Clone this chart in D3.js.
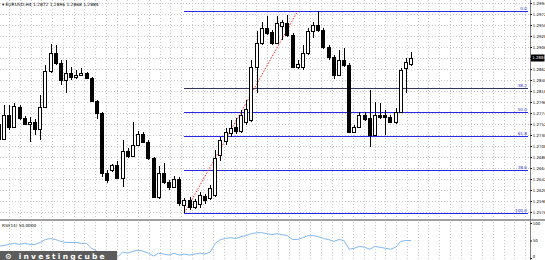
<!DOCTYPE html>
<html>
<head>
<meta charset="utf-8">
<script src="https://cdn.jsdelivr.net/npm/d3@7"></script>
<style>
body { margin: 0; background: #fff; }
text { font-family: "DejaVu Sans", sans-serif; }
</style>
</head>
<body>
<svg id="chart" width="545" height="260"></svg>
<script>
// EURUSD H4 candles
var open  = [1.2752,1.2722,1.2770,1.2746,1.2786,1.2764,1.2752,1.2756,1.2742,1.2786,
             1.2858,1.2894,1.2874,1.2840,1.2854,1.2846,1.2850,1.2854,1.2844,1.2798,
             1.2774,1.2654,1.2660,1.2670,1.2644,1.2698,1.2688,1.2710,1.2732,1.2716,
             1.2684,1.2606,1.2654,1.2636,1.2626,1.2642,1.2590,1.2600,1.2586,1.2592,
             1.2608,1.2604,1.2610,1.2690,1.2718,1.2734,1.2746,1.2738,1.2756,1.2760,
             1.2866,1.2914,1.2944,1.2936,1.2914,1.2948,1.2954,1.2930,1.2866,1.2866,
             1.2894,1.2938,1.2950,1.2940,1.2906,1.2886,1.2850,1.2880,1.2870,1.2736,
             1.2746,1.2770,1.2764,1.2730,1.2770,1.2770,1.2766,1.2756,1.2776,1.2864,
             1.2872];
var high  = [1.2760,1.2790,1.2790,1.2794,1.2790,1.2768,1.2766,1.2762,1.2810,1.2870,
             1.2912,1.2910,1.2880,1.2880,1.2866,1.2860,1.2864,1.2856,1.2846,1.2800,
             1.2776,1.2660,1.2672,1.2678,1.2720,1.2704,1.2756,1.2738,1.2736,1.2720,
             1.2686,1.2668,1.2674,1.2640,1.2648,1.2646,1.2604,1.2606,1.2602,1.2616,
             1.2612,1.2630,1.2700,1.2726,1.2744,1.2760,1.2764,1.2780,1.2800,1.2880,
             1.2938,1.2956,1.2968,1.2940,1.2968,1.2960,1.2970,1.2934,1.2880,1.2910,
             1.2944,1.2956,1.2978,1.2944,1.2910,1.2890,1.2900,1.2904,1.2874,1.2750,
             1.2776,1.2776,1.2820,1.2796,1.2794,1.2780,1.2770,1.2784,1.2864,1.2884,
             1.2896];
var low   = [1.2716,1.2720,1.2740,1.2744,1.2760,1.2750,1.2716,1.2730,1.2720,1.2784,
             1.2854,1.2870,1.2830,1.2814,1.2840,1.2842,1.2848,1.2842,1.2796,1.2762,
             1.2646,1.2634,1.2656,1.2642,1.2626,1.2684,1.2686,1.2708,1.2714,1.2680,
             1.2604,1.2602,1.2632,1.2620,1.2624,1.2588,1.2574,1.2580,1.2582,1.2584,
             1.2592,1.2600,1.2606,1.2678,1.2710,1.2726,1.2732,1.2734,1.2750,1.2756,
             1.2814,1.2910,1.2930,1.2910,1.2912,1.2920,1.2926,1.2864,1.2862,1.2860,
             1.2890,1.2924,1.2936,1.2902,1.2880,1.2842,1.2848,1.2866,1.2734,1.2734,
             1.2744,1.2758,1.2706,1.2728,1.2762,1.2730,1.2754,1.2752,1.2774,1.2814,
             1.2868];
var close = [1.2722,1.2770,1.2746,1.2788,1.2764,1.2752,1.2756,1.2742,1.2786,1.2858,
             1.2894,1.2874,1.2840,1.2854,1.2846,1.2850,1.2854,1.2844,1.2798,1.2774,
             1.2654,1.2640,1.2670,1.2644,1.2698,1.2688,1.2710,1.2732,1.2716,1.2684,
             1.2606,1.2654,1.2636,1.2626,1.2642,1.2594,1.2600,1.2586,1.2598,1.2610,
             1.2600,1.2624,1.2684,1.2720,1.2736,1.2744,1.2738,1.2770,1.2782,1.2866,
             1.2914,1.2944,1.2934,1.2914,1.2954,1.2956,1.2930,1.2866,1.2872,1.2894,
             1.2938,1.2950,1.2940,1.2906,1.2886,1.2850,1.2880,1.2870,1.2736,1.2746,
             1.2770,1.2762,1.2730,1.2770,1.2766,1.2766,1.2756,1.2776,1.2860,1.2876,
             1.2884];

// RSI(14) sub window
var rsi = [33.3,36.1,38.9,41.7,38.9,41.7,38.9,38.9,44.4,52.8,
           55.6,52.8,47.2,44.4,44.4,44.4,41.7,41.7,27.8,19.4,
           8.3,2.8,5.6,2.8,16.7,13.9,19.4,22.2,19.4,13.9,
           5.6,13.9,11.1,8.3,13.9,8.3,11.1,8.3,11.1,13.9,
           11.1,16.7,41.7,52.8,55.6,58.3,55.6,61.1,63.9,69.4,
           72.2,72.2,69.4,66.7,69.4,66.7,63.9,52.8,52.8,58.3,
           63.9,63.9,61.1,55.6,52.8,47.2,52.8,50.0,25.0,27.8,
           33.3,30.6,25.0,33.3,30.6,27.8,25.0,30.6,47.2,50.0,
           50.0];

var priceTicks = [1.2994,1.2972,1.2950,1.2928,1.2906,1.2884,1.2862,1.2840,1.2818,1.2796,
                  1.2774,1.2752,1.2730,1.2708,1.2686,1.2664,1.2642,1.2620,1.2598,1.2576];
var rsiTicks = [100, 50, 0];

// fibonacci: anchors (bar index, price) and levels
var fiboFrom = [36, 1.2574];
var fiboTo = [58, 1.2978];
var fiboLevels = [0, 38.2, 50, 61.8, 78.6, 100];

var svg = d3.select("#chart");
var plotRight = 530;
var axisFont = "'Liberation Sans Narrow', 'DejaVu Sans Condensed', sans-serif";

var x = d3.scaleLinear().domain([0, 100]).range([-1, 514]);
var y = d3.scaleLinear().domain([1.2564, 1.3000]).range([218, 0]);
var yr = d3.scaleLinear().domain([0, 100]).range([258, 223]);

// grid
var grid = svg.append("g").attr("shape-rendering", "crispEdges");
grid.selectAll(".gh").data(priceTicks).join("line")
	.attr("x1", 0).attr("x2", plotRight)
	.attr("y1", d => Math.round(y(d)) + 0.5).attr("y2", d => Math.round(y(d)) + 0.5)
	.attr("stroke", "#c8c8c8").attr("stroke-dasharray", "1,2");
grid.selectAll(".gv").data(d3.range(9, plotRight, 10.75)).join("line")
	.attr("x1", d => Math.round(d) + 0.5).attr("x2", d => Math.round(d) + 0.5)
	.attr("y1", 0).attr("y2", 260)
	.attr("stroke", "#c8c8c8").attr("stroke-dasharray", "1,2");

// fibo levels
var fx1 = x(fiboFrom[0]);
var lvlY = d => y(fiboTo[1] - (fiboTo[1] - fiboFrom[1]) * d / 100);
var fg = svg.append("g");
fg.selectAll("line").data(fiboLevels).join("line")
	.attr("x1", fx1).attr("x2", plotRight - 2)
	.attr("y1", d => Math.round(lvlY(d)) + 0.5)
	.attr("y2", d => Math.round(lvlY(d)) + 0.5)
	.attr("stroke", d => d == 38.2 ? "#34345a" : "#2828e6")
	.attr("stroke-width", 1.1)
	.attr("shape-rendering", "crispEdges");
fg.selectAll("text").data(fiboLevels).join("text")
	.attr("x", plotRight - 3)
	.attr("y", d => lvlY(d) - 1)
	.attr("text-anchor", "end")
	.attr("font-size", 4.2)
	.attr("fill", "#3030e0")
	.text(d => d.toFixed(1));
svg.append("line")
	.attr("x1", x(fiboFrom[0])).attr("y1", y(fiboFrom[1]))
	.attr("x2", x(fiboTo[0])).attr("y2", y(fiboTo[1]))
	.attr("stroke", "#ff2020").attr("stroke-dasharray", "1.5,1.5").attr("stroke-width", 1);

// candles
var bars = d3.range(close.length);
var cg = svg.append("g").attr("shape-rendering", "crispEdges");
cg.selectAll(".wick").data(bars).join("line")
	.attr("x1", i => Math.round(x(i)) + 0.5).attr("x2", i => Math.round(x(i)) + 0.5)
	.attr("y1", i => y(high[i])).attr("y2", i => y(low[i]))
	.attr("stroke", "#000");
cg.selectAll(".body").data(bars).join("rect")
	.attr("x", i => Math.round(x(i)) - 1.5)
	.attr("width", 3)
	.attr("y", i => Math.round(y(Math.max(open[i], close[i]))) + 0.5)
	.attr("height", i => Math.max(1, Math.round(Math.abs(y(open[i]) - y(close[i])))))
	.attr("fill", i => close[i] >= open[i] ? "#fff" : "#000")
	.attr("stroke", "#000");

// header
svg.append("text").attr("x", 2).attr("y", 5.5).attr("font-size", 4.4).attr("fill", "#000")
	.text("\u25BE EURUSD,H4  " + [open, high, low, close].map(a => a[a.length - 1].toFixed(4)).join(" "));

// separator + right axis
svg.append("rect").attr("x", 0).attr("y", 219).attr("width", 545).attr("height", 2).attr("fill", "#a0a0a0");
svg.append("line").attr("x1", plotRight + 0.5).attr("x2", plotRight + 0.5).attr("y1", 0).attr("y2", 260)
	.attr("stroke", "#808080");

var axis = svg.append("g").attr("transform", "translate(" + (plotRight + 0.5) + ",0)")
	.call(d3.axisRight(y).tickValues(priceTicks).tickFormat(d3.format(".4f")).tickSize(1.5).tickPadding(0.8));
axis.select(".domain").remove();
axis.selectAll("text").attr("font-size", 3.9).attr("fill", "#000").attr("font-family", axisFont);
axis.selectAll("line").attr("stroke", "#000");

// current price tag
var last = close[close.length - 1];
svg.append("rect").attr("x", plotRight + 1).attr("y", y(last) - 3.5).attr("width", 13.5).attr("height", 7).attr("fill", "#000");
svg.append("text").attr("x", plotRight + 2.3).attr("y", y(last) + 1.4).attr("font-size", 3.9).attr("fill", "#fff")
	.attr("font-family", axisFont).text(last.toFixed(4));

// rsi window
svg.append("path").datum(bars)
	.attr("d", d3.line().x(i => x(i)).y(i => yr(rsi[i])))
	.attr("fill", "none").attr("stroke", "#80b8ee").attr("stroke-width", 1);
var raxis = svg.append("g").attr("transform", "translate(" + (plotRight + 0.5) + ",0)")
	.call(d3.axisRight(yr).tickValues(rsiTicks).tickFormat(d3.format("d")).tickSize(1.5).tickPadding(0.8));
raxis.select(".domain").remove();
raxis.selectAll("text").attr("font-size", 3.9).attr("fill", "#000").attr("font-family", axisFont)
	.attr("dy", d => d == 0 ? "-0.1em" : "0.32em");
raxis.selectAll("line").attr("stroke", "#000");
svg.append("text").attr("x", 2).attr("y", 226.5).attr("font-size", 4.2).attr("fill", "#000")
	.text("RSI(14) " + rsi[rsi.length - 1].toFixed(4));

// watermark
svg.append("rect").attr("x", 0).attr("y", 251).attr("width", 117).attr("height", 9).attr("fill", "#5c5c5c");
svg.append("text").attr("x", 5).attr("y", 258.6).attr("font-size", 7.5).attr("font-weight", "bold")
	.attr("letter-spacing", 2.2).attr("fill", "#fff").text("\u2699 investingcube");
</script>
</body>
</html>
